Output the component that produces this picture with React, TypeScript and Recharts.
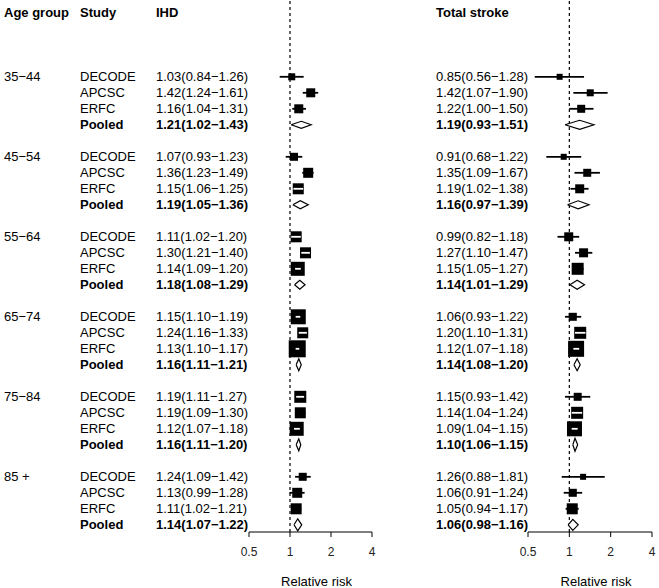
import React from "react";
import { ComposedChart, Scatter, XAxis, YAxis, ZAxis, ErrorBar, ReferenceLine } from "recharts";

const ageGroups = ["35−44", "45−54", "55−64", "65−74", "75−84", "85 +"];
const studies = ["DECODE", "APCSC", "ERFC", "Pooled"];
const xTicks = [0.5, 1, 2, 4];

// relative risk per age group, columns: DECODE, APCSC, ERFC, Pooled
const ihdRR = [
  [1.03, 1.42, 1.16, 1.21],
  [1.07, 1.36, 1.15, 1.19],
  [1.11, 1.3, 1.14, 1.18],
  [1.15, 1.24, 1.13, 1.16],
  [1.19, 1.19, 1.12, 1.16],
  [1.24, 1.13, 1.11, 1.14],
];
const ihdLower = [
  [0.84, 1.24, 1.04, 1.02],
  [0.93, 1.23, 1.06, 1.05],
  [1.02, 1.21, 1.09, 1.08],
  [1.1, 1.16, 1.1, 1.11],
  [1.11, 1.09, 1.07, 1.11],
  [1.09, 0.99, 1.02, 1.07],
];
const ihdUpper = [
  [1.26, 1.61, 1.31, 1.43],
  [1.23, 1.49, 1.25, 1.36],
  [1.2, 1.4, 1.2, 1.29],
  [1.19, 1.33, 1.17, 1.21],
  [1.27, 1.3, 1.18, 1.2],
  [1.42, 1.28, 1.21, 1.22],
];

const strokeRR = [
  [0.85, 1.42, 1.22, 1.19],
  [0.91, 1.35, 1.19, 1.16],
  [0.99, 1.27, 1.15, 1.14],
  [1.06, 1.2, 1.12, 1.14],
  [1.15, 1.14, 1.09, 1.1],
  [1.26, 1.06, 1.05, 1.06],
];
const strokeLower = [
  [0.56, 1.07, 1.0, 0.93],
  [0.68, 1.09, 1.02, 0.97],
  [0.82, 1.1, 1.05, 1.01],
  [0.93, 1.1, 1.07, 1.08],
  [0.93, 1.04, 1.04, 1.06],
  [0.88, 0.91, 0.94, 0.98],
];
const strokeUpper = [
  [1.28, 1.9, 1.5, 1.51],
  [1.22, 1.67, 1.38, 1.39],
  [1.18, 1.47, 1.27, 1.29],
  [1.22, 1.31, 1.18, 1.2],
  [1.42, 1.24, 1.15, 1.15],
  [1.81, 1.24, 1.17, 1.16],
];

// study weights (box area) and pooled weights (diamond height), as drawn
const ihdWeight = [
  [49, 81, 81],
  [64, 100, 121],
  [121, 121, 196],
  [225, 121, 289],
  [144, 121, 196],
  [64, 100, 121],
];
const strokeWeight = [
  [36, 49, 64],
  [36, 64, 81],
  [81, 81, 144],
  [64, 144, 256],
  [64, 144, 225],
  [36, 64, 121],
];
const ihdPooledWeight = [7, 8, 9, 12, 12, 12];
const strokePooledWeight = [9, 8, 9, 12, 13, 11];

// boxes wider than their CI get the CI drawn in white on top
const ihdInsideBox = [
  [0, 0, 0],
  [0, 0, 1],
  [1, 1, 1],
  [1, 1, 1],
  [1, 0, 1],
  [0, 0, 0],
];
const strokeInsideBox = [
  [0, 0, 0],
  [0, 0, 0],
  [0, 0, 0],
  [0, 1, 1],
  [0, 1, 1],
  [0, 0, 0],
];

const FONT = "'Liberation Sans', Arial, Helvetica, sans-serif";
const rowOf = (g: number, s: number) => 4 + 5 * g + s;
const fmt = (e: number, l: number, u: number) => `${e.toFixed(2)}(${l.toFixed(2)}−${u.toFixed(2)})`;

type Cell = { x: number; text: string; bold?: boolean };

const BoxShape = (props: any) => {
  const { cx, cy } = props;
  const s = props.width ?? Math.sqrt((props.size ?? 0) / Math.PI) * 2;
  return <rect x={cx - s / 2} y={cy - s / 2} width={s} height={s} fill="#000" />;
};
const NoShape = () => <g />;

function ForestPanel({
  title, rr, lower, upper, weight, pooledWeight, insideBox,
  width, axisWidth, marginRight, cols,
}: any) {
  const boxes: any[] = [];
  const whiteCi: any[][] = [];
  const diamonds: any[][] = [];
  const rowText = new Map<number, Cell[]>();

  const header: Cell[] = [{ x: cols.value, text: title, bold: true }];
  if (cols.age != null) {
    header.unshift({ x: cols.study, text: "Study", bold: true });
    header.unshift({ x: cols.age, text: "Age group", bold: true });
  }
  rowText.set(0, header);

  ageGroups.forEach((age, g) => {
    studies.forEach((study, s) => {
      const r = rowOf(g, s);
      const e = rr[g][s];
      const l = lower[g][s];
      const u = upper[g][s];
      const pooled = s === 3;
      const cells: Cell[] = [{ x: cols.value, text: fmt(e, l, u), bold: pooled }];
      if (cols.age != null) {
        cells.unshift({ x: cols.study, text: study, bold: pooled });
        if (s === 0) cells.unshift({ x: cols.age, text: age });
      }
      rowText.set(r, cells);
      if (!pooled) {
        boxes.push({ x: e, y: r, w: weight[g][s], err: [e - l, u - e] });
        if (insideBox[g][s]) whiteCi.push([{ x: l, y: r }, { x: u, y: r }]);
      } else {
        const h = pooledWeight[g] / 32;
        diamonds.push([
          { x: l, y: r },
          { x: e, y: r - h },
          { x: u, y: r },
          { x: e, y: r + h },
          { x: l, y: r },
        ]);
      }
    });
  });

  const renderTick = (props: any) => {
    const cells = rowText.get(props.payload?.value);
    if (!cells) return <g />;
    return (
      <g>
        {cells.map((c, i) => (
          <text key={i} x={c.x} y={props.y} dy="0.36em" fontSize={13} fontFamily={FONT}
            fontWeight={c.bold ? "bold" : "normal"} fill="#000">
            {c.text}
          </text>
        ))}
      </g>
    );
  };

  return (
    <ComposedChart width={width} height={588} margin={{ top: 0, right: marginRight, bottom: 0, left: 0 }}>
      <XAxis
        type="number" dataKey="x" scale="log" domain={[0.5, 4]} ticks={xTicks}
        height={56} tickSize={5} tickMargin={10} stroke="#000"
        tick={{ fontSize: 12, fill: "#222", fontFamily: FONT }}
        label={{ value: "Relative risk", position: "insideBottom", offset: 2, dx: 6, fill: "#000", fontSize: 13, fontFamily: FONT }}
      />
      <YAxis
        type="number" dataKey="y" domain={[-0.8, 32.45]} reversed width={axisWidth}
        ticks={Array.from(rowText.keys())} interval={0} axisLine={false} tickLine={false}
        tick={renderTick}
      />
      <ZAxis type="number" dataKey="w" domain={[0, 400]} range={[0, 100 * Math.PI]} />
      <ReferenceLine x={1} stroke="#000" strokeDasharray="3 3" strokeWidth={1.2} />
      <Scatter data={boxes} shape={BoxShape} isAnimationActive={false}>
        <ErrorBar dataKey="err" direction="x" width={0} stroke="#000" strokeWidth={1.8} />
      </Scatter>
      {whiteCi.map((seg, i) => (
        <Scatter key={`w${i}`} data={seg} shape={NoShape} line={{ stroke: "#fff", strokeWidth: 1.8 }}
          lineType="joint" isAnimationActive={false} />
      ))}
      {diamonds.map((d, i) => (
        <Scatter key={`d${i}`} data={d} shape={NoShape} line={{ stroke: "#000", strokeWidth: 1.2, fill: "#fff" }}
          lineType="joint" isAnimationActive={false} />
      ))}
    </ComposedChart>
  );
}

export default function App() {
  return (
    <div style={{ position: "absolute", left: 0, top: 0, width: 659, height: 588, background: "#fff", fontFamily: FONT }}>
      <div style={{ position: "absolute", left: 0, top: 0 }}>
        <ForestPanel
          title="IHD" rr={ihdRR} lower={ihdLower} upper={ihdUpper}
          weight={ihdWeight} pooledWeight={ihdPooledWeight} insideBox={ihdInsideBox}
          width={380} axisWidth={249} marginRight={8}
          cols={{ age: 4, study: 80, value: 156 }}
        />
      </div>
      <div style={{ position: "absolute", left: 380, top: 0 }}>
        <ForestPanel
          title="Total stroke" rr={strokeRR} lower={strokeLower} upper={strokeUpper}
          weight={strokeWeight} pooledWeight={strokePooledWeight} insideBox={strokeInsideBox}
          width={279} axisWidth={148} marginRight={7}
          cols={{ value: 56 }}
        />
      </div>
    </div>
  );
}
